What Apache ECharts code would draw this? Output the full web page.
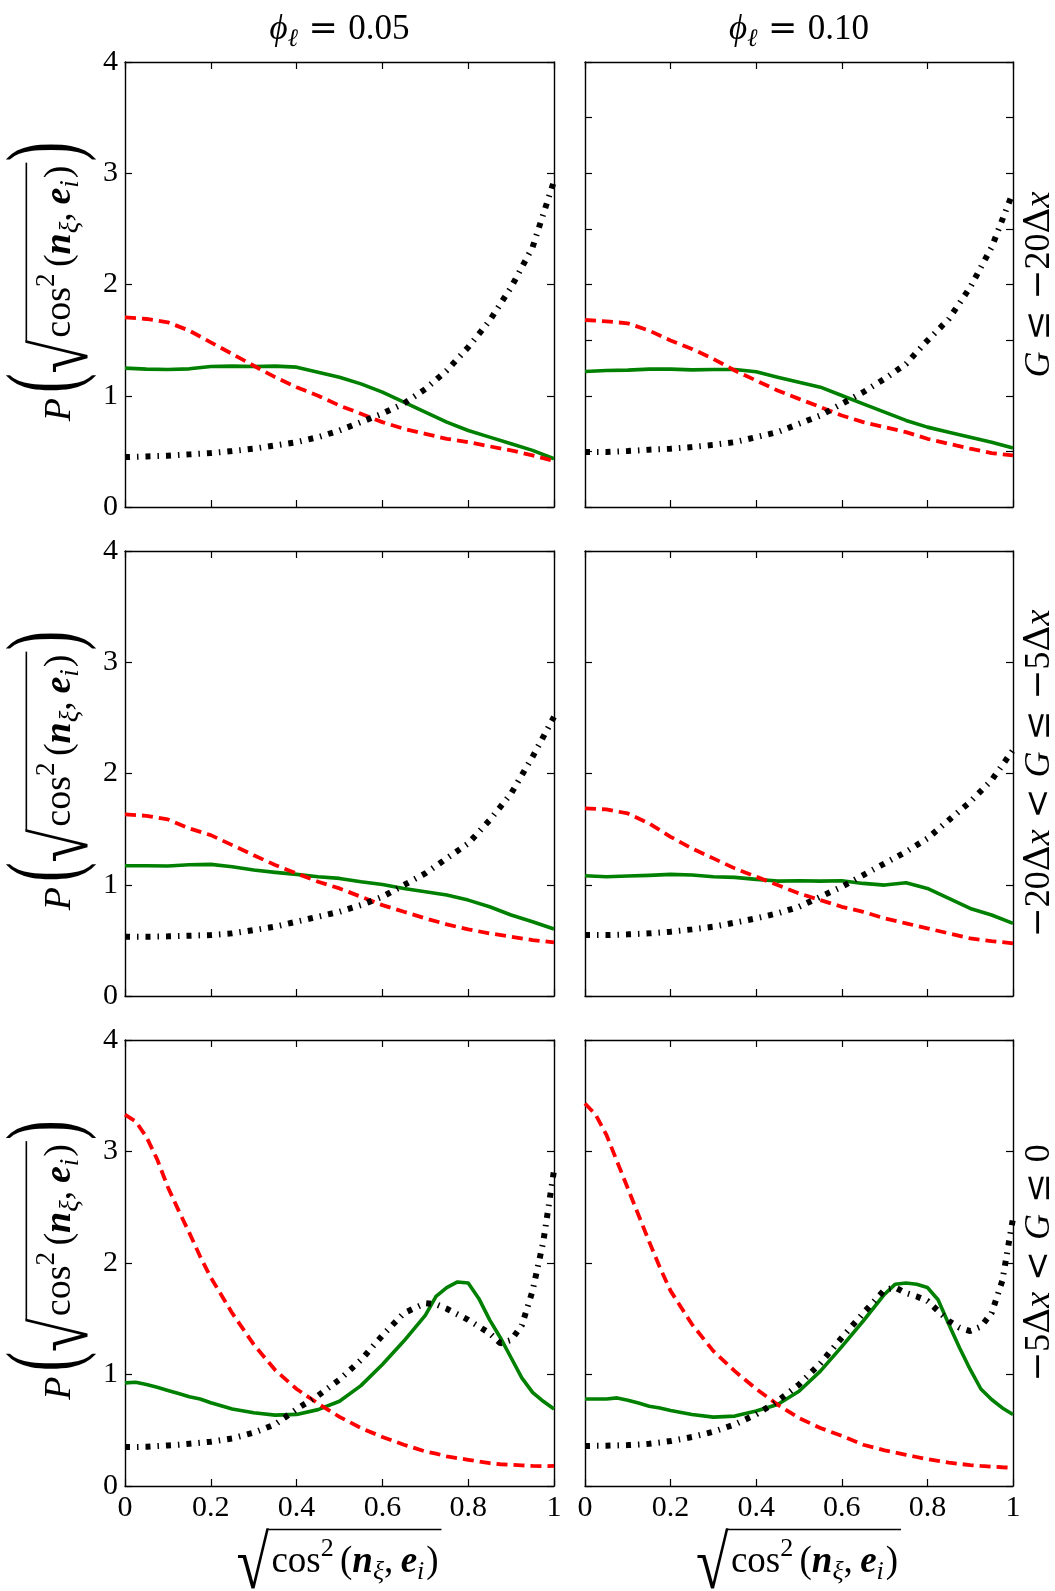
<!DOCTYPE html>
<html>
<head>
<meta charset="utf-8">
<script src="https://cdn.jsdelivr.net/npm/echarts@6/dist/echarts.min.js"></script>
<style>
html,body{margin:0;padding:0;background:#ffffff;}
#chart{width:1055px;height:1591px;}
</style>
</head>
<body>
<div id="chart"></div>
<script>
// ---------------- DATA ----------------
const X_COARSE = [0,0.05,0.1,0.15,0.2,0.25,0.3,0.35,0.4,0.45,0.5,0.55,0.6,0.65,0.7,0.75,0.8,0.85,0.9,0.95,1];
const X_FINE = [0,0.025,0.05,0.075,0.1,0.125,0.15,0.175,0.2,0.25,0.3,0.35,0.4,0.45,0.5,0.55,0.6,0.65,0.7,0.725,0.75,0.775,0.8,0.825,0.85,0.875,0.9,0.925,0.95,0.975,1];

const X_TICKS = [0,0.2,0.4,0.6,0.8,1];
const Y_TICKS = [0,1,2,3,4];
const COLUMN_TITLES = ['0.05','0.10'];

// top row: G <= -20dx
const TL_RED   = [1.705,1.69,1.66,1.585,1.48,1.376,1.27,1.167,1.077,1.0,0.912,0.838,0.763,0.703,0.658,0.613,0.583,0.545,0.509,0.464,0.413];
const TL_GREEN = [1.248,1.239,1.236,1.242,1.263,1.266,1.263,1.266,1.257,1.212,1.167,1.107,1.032,0.942,0.853,0.763,0.688,0.628,0.568,0.509,0.434];
const TL_BLACK = [0.449,0.455,0.461,0.473,0.485,0.503,0.524,0.553,0.583,0.628,0.688,0.763,0.84,0.93,1.06,1.227,1.436,1.675,1.975,2.334,2.93];

const TR_RED   = [1.681,1.669,1.651,1.586,1.496,1.421,1.331,1.227,1.137,1.047,0.972,0.898,0.823,0.763,0.718,0.673,0.613,0.568,0.524,0.485,0.464];
const TR_GREEN = [1.218,1.227,1.230,1.239,1.239,1.233,1.236,1.236,1.215,1.167,1.122,1.077,1.002,0.927,0.853,0.778,0.718,0.673,0.628,0.583,0.530];
const TR_BLACK = [0.494,0.494,0.503,0.515,0.524,0.539,0.559,0.583,0.628,0.673,0.748,0.823,0.927,1.032,1.152,1.286,1.496,1.690,1.975,2.334,2.83];

// middle row: -20dx < G <= -5dx
const ML_RED   = [1.632,1.62,1.587,1.506,1.446,1.356,1.266,1.177,1.102,1.027,0.967,0.892,0.817,0.757,0.698,0.644,0.599,0.563,0.533,0.503,0.482];
const ML_GREEN = [1.171,1.171,1.168,1.180,1.183,1.162,1.132,1.111,1.093,1.072,1.057,1.027,1.003,0.967,0.937,0.907,0.862,0.802,0.728,0.668,0.602];
const ML_BLACK = [0.533,0.533,0.536,0.542,0.548,0.563,0.593,0.623,0.668,0.713,0.757,0.817,0.892,0.997,1.102,1.237,1.371,1.581,1.820,2.150,2.509];

const MR_RED   = [1.686,1.677,1.641,1.551,1.431,1.326,1.237,1.147,1.072,0.997,0.922,0.862,0.802,0.757,0.698,0.653,0.608,0.563,0.518,0.494,0.473];
const MR_GREEN = [1.081,1.072,1.078,1.084,1.093,1.087,1.072,1.066,1.048,1.033,1.036,1.033,1.036,1.012,0.997,1.018,0.967,0.877,0.787,0.728,0.653];
const MR_BLACK = [0.548,0.548,0.554,0.563,0.578,0.599,0.623,0.659,0.698,0.743,0.802,0.892,0.982,1.087,1.192,1.296,1.416,1.581,1.746,1.940,2.210];

// bottom row: -5dx < G <= 0
const BL_RED   = [3.33,3.27,3.13,2.93,2.68,2.47,2.27,2.06,1.87,1.55,1.27,1.04,0.87,0.74,0.62,0.52,0.44,0.37,0.31,0.29,0.265,0.25,0.235,0.22,0.205,0.195,0.19,0.185,0.18,0.178,0.18];
const BL_GREEN = [0.925,0.93,0.91,0.885,0.857,0.83,0.80,0.78,0.746,0.69,0.657,0.636,0.642,0.685,0.76,0.90,1.09,1.30,1.53,1.70,1.78,1.83,1.82,1.68,1.49,1.33,1.15,0.97,0.84,0.76,0.69];
const BL_BLACK = [0.35,0.35,0.352,0.358,0.364,0.37,0.379,0.388,0.397,0.427,0.478,0.552,0.69,0.81,0.955,1.13,1.35,1.55,1.64,1.63,1.59,1.54,1.49,1.43,1.37,1.28,1.31,1.44,1.75,2.19,2.83];

const BR_RED   = [3.43,3.33,3.15,2.91,2.67,2.43,2.19,1.96,1.75,1.45,1.21,1.03,0.87,0.73,0.61,0.52,0.45,0.37,0.32,0.30,0.28,0.26,0.24,0.225,0.21,0.198,0.188,0.18,0.173,0.168,0.164];
const BR_GREEN = [0.78,0.78,0.78,0.79,0.77,0.745,0.716,0.70,0.678,0.642,0.618,0.627,0.672,0.731,0.85,1.03,1.25,1.48,1.72,1.81,1.82,1.81,1.78,1.67,1.45,1.24,1.045,0.87,0.776,0.70,0.642];
const BR_BLACK = [0.358,0.36,0.361,0.364,0.367,0.372,0.379,0.39,0.403,0.439,0.487,0.552,0.642,0.761,0.91,1.10,1.33,1.55,1.76,1.78,1.73,1.70,1.66,1.57,1.48,1.42,1.39,1.43,1.55,1.84,2.40];

// ---------------- LAYOUT / STYLE ----------------
const COL_LEFT = [125, 585];
const COL_W = [429, 428];
const ROW_TOP = [62, 551, 1040];
const ROW_H = [445, 445, 446];
const FONT = '"Liberation Serif", serif';
const SYM = '"DejaVu Serif", serif';
const INK = '#000000';

const PANELS = [
  {row:0,col:0,x:X_COARSE,g:TL_GREEN,r:TL_RED,k:TL_BLACK},
  {row:0,col:1,x:X_COARSE,g:TR_GREEN,r:TR_RED,k:TR_BLACK},
  {row:1,col:0,x:X_COARSE,g:ML_GREEN,r:ML_RED,k:ML_BLACK},
  {row:1,col:1,x:X_COARSE,g:MR_GREEN,r:MR_RED,k:MR_BLACK},
  {row:2,col:0,x:X_FINE,g:BL_GREEN,r:BL_RED,k:BL_BLACK},
  {row:2,col:1,x:X_FINE,g:BR_GREEN,r:BR_RED,k:BR_BLACK}
];

const grids = [], xAxes = [], yAxes = [], series = [];
const axisLine = {show:true, onZero:false, lineStyle:{color:INK, width:1.4}};
const axisTick = {show:true, inside:true, length:7, lineStyle:{color:INK, width:1.2}};
const labelBase = {fontFamily:FONT, fontSize:30, color:INK};

PANELS.forEach((p, i) => {
  grids.push({left:COL_LEFT[p.col], top:ROW_TOP[p.row], width:COL_W[p.col], height:ROW_H[p.row], show:false});
  const xCommon = {gridIndex:i, type:'value', min:X_TICKS[0], max:X_TICKS[X_TICKS.length-1], interval:X_TICKS[1]-X_TICKS[0],
    axisLine, axisTick, splitLine:{show:false}};
  xAxes.push(Object.assign({}, xCommon, {position:'bottom',
    axisLabel:Object.assign({show:p.row===2, margin:7}, labelBase)}));
  xAxes.push(Object.assign({}, xCommon, {position:'top', axisLabel:{show:false}}));
  const yInterval = (p.row===0 && p.col===1) ? 0.5 : 1;
  const yCommon = {gridIndex:i, type:'value', min:Y_TICKS[0], max:Y_TICKS[Y_TICKS.length-1], interval:yInterval,
    axisLine, axisTick, splitLine:{show:false}};
  yAxes.push(Object.assign({}, yCommon, {position:'left',
    axisLabel:Object.assign({show:p.col===0, margin:7}, labelBase)}));
  yAxes.push(Object.assign({}, yCommon, {position:'right', axisLabel:{show:false}}));
  const mk = (ys, style, z) => ({
    type:'line', xAxisIndex:2*i, yAxisIndex:2*i, data:p.x.map((xv,k)=>[xv, ys[k]]),
    showSymbol:false, symbol:'none', smooth:false, silent:true, z:z, clip:true,
    lineStyle:style, animation:false
  });
  series.push(mk(p.g, {color:'#008000', width:3.6, type:'solid', join:'round'}, 2));
  series.push(mk(p.r, {color:'#ff0000', width:3.8, type:[11,6], cap:'butt'}, 3));
  series.push(mk(p.k, {color:'#000000', width:6, type:[5,7,1.5,7], cap:'butt'}, 4));
});

// ---------------- MATH TEXT HELPERS ----------------
const mctx = document.createElement('canvas').getContext('2d');
function fam(p){ return p.fam || FONT; }
function fontStr(p){ return (p.style||'normal')+' '+(p.weight||'normal')+' '+p.size+'px '+fam(p); }
function meas(p){
  mctx.font = fontStr(p);
  mctx.textBaseline = 'alphabetic';
  const a = mctx.measureText(p.t);
  mctx.textBaseline = 'middle';
  const m = mctx.measureText(p.t);
  return {w:a.width, asc:a.actualBoundingBoxAscent, desc:a.actualBoundingBoxDescent,
          left:a.actualBoundingBoxLeft, right:a.actualBoundingBoxRight,
          d:a.actualBoundingBoxAscent - m.actualBoundingBoxAscent};
}
function styleOf(p){
  return {text:p.t, fontSize:p.size, fontFamily:fam(p), fontStyle:p.style||'normal',
      fontWeight:p.weight||'normal', fill:INK, align:'left', verticalAlign:'middle'};
}
function textEl(p, x, baseline){
  const mt = meas(p);
  return {type:'text', x:x, y:baseline - mt.d, silent:true, style:styleOf(p)};
}
function stretchEl(p, x, top, bottom){
  const g = meas(p);
  const s = (bottom - top)/(g.asc + g.desc);
  return {el:{type:'text', x:x, y:top + s*(g.asc - g.d), scaleY:s, silent:true, style:styleOf(p)}, g:g};
}
function run(pieces, x0, baseline){
  const els = []; let x = x0;
  pieces.forEach(p => {
    x += (p.gapBefore||0);
    const mt = meas(p);
    els.push(textEl(p, x, baseline + (p.dy||0)));
    x += mt.w + (p.gapAfter||0);
  });
  return {els, width:x - x0};
}
function radicand(S){
  const s = Math.round(S*0.7);
  return [
    {t:'cos', size:S},
    {t:'2', size:s, dy:-0.42*S, gapAfter:0.17*S},
    {t:'(', size:S},
    {t:'n', size:S, style:'italic', weight:'bold'},
    {t:'ξ', size:s, style:'italic', dy:0.2*S},
    {t:',', size:S, gapAfter:0.2*S},
    {t:'e', size:S, style:'italic', weight:'bold'},
    {t:'i', size:s, style:'italic', dy:0.2*S, gapAfter:0.05*S},
    {t:')', size:S}
  ];
}
function sqrtRun(S, x0, baseline){
  const vin = baseline - 1.17*S;
  const bot = baseline + 0.48*S;
  const ref = meas({t:'√', size:100});
  const F0 = 100*(0.85*S)/(ref.left + ref.right);
  const st = stretchEl({t:'√', size:F0}, 0, vin, bot);
  const ox = x0 + st.g.left;
  st.el.x = ox;
  const els = [st.el];
  const cx = ox + st.g.right + 0.05*S;
  const r = run(radicand(S), cx, baseline);
  els.push(...r.els);
  const endX = cx + r.width + 0.08*S;
  els.push({type:'line', silent:true, shape:{x1:ox + st.g.right - 1.2, y1:vin + 0.8, x2:endX, y2:vin + 0.8},
    style:{stroke:INK, lineWidth:1.6}});
  return {els, width:endX - x0};
}

const graphics = [];

// column titles
COLUMN_TITLES.forEach((val, c) => {
  const S = 35;
  const pieces = [
    {t:'ϕ', size:S, style:'italic'},
    {t:'ℓ', size:Math.round(S*0.7), style:'italic', dy:0.2*S, gapAfter:0.3*S},
    {t:'=', size:S, fam:SYM, gapAfter:0.3*S},
    {t:val, size:S}
  ];
  const w = run(pieces, 0, 0).width;
  const cx = COL_LEFT[c] + COL_W[c]/2;
  graphics.push(...run(pieces, cx - w/2, 39).els);
});

// row labels (rotated, right side)
function rowPieces(idx){
  const S = 36, sp = 0.3*S;
  const G = ()=>({t:'G', size:S, style:'italic'});
  const X = ()=>({t:'x', size:S, style:'italic'});
  const sym = (t, extra)=>Object.assign({t, size:S, fam:SYM}, extra||{});
  const num = (t)=>({t, size:S});
  if (idx===0) return [Object.assign(G(),{gapAfter:sp}), sym('≤',{gapAfter:sp}), sym('−'), num('20'), sym('Δ'), X()];
  if (idx===1) return [sym('−'), num('20'), sym('Δ'), X(), sym('<',{gapBefore:sp, gapAfter:sp}), Object.assign(G(),{gapAfter:sp}), sym('≤',{gapAfter:sp}), sym('−'), num('5'), sym('Δ'), X()];
  return [sym('−'), num('5'), sym('Δ'), X(), sym('<',{gapBefore:sp, gapAfter:sp}), Object.assign(G(),{gapAfter:sp}), sym('≤',{gapAfter:sp}), num('0')];
}
ROW_TOP.forEach((t, r) => {
  const pieces = rowPieces(r);
  const w = run(pieces, 0, 0).width;
  const cy = t + ROW_H[r]/2;
  graphics.push({type:'group', x:1049, y:cy, rotation:Math.PI/2, children: run(pieces, -w/2, 0).els});
});

// y-axis labels: P( sqrt(...) )
function yLabelEls(){
  const S = 38;
  const P = {t:'P', size:S, style:'italic'};
  const pW = meas(P).w;
  const top = -64, bot = 27;
  const LP = {t:'(', size:58}, RP = {t:')', size:58};
  const lpW = meas(LP).w, rpW = meas(RP).w;
  const sq = sqrtRun(S, 0, 0).width;
  const gap1 = 0.14*S, gap2 = 0.02*S, gap3 = 0.04*S;
  const total = pW + gap1 + lpW + gap2 + sq + gap3 + rpW;
  let x = -total/2;
  const els = [];
  els.push(textEl(P, x, 0)); x += pW + gap1;
  els.push(stretchEl(LP, x, top, bot).el); x += lpW + gap2;
  const Q = sqrtRun(S, x, 0); els.push(...Q.els); x += Q.width + gap3;
  els.push(stretchEl(RP, x, top, bot).el);
  return els;
}
ROW_TOP.forEach((t, r) => {
  graphics.push({type:'group', x:70, y:t + ROW_H[r]/2 - 3, rotation:Math.PI/2, children:yLabelEls()});
});

// x-axis labels
COL_LEFT.forEach((l, c) => {
  const S = 37;
  const w = sqrtRun(S, 0, 0).width;
  const cx = l + COL_W[c]/2;
  graphics.push(...sqrtRun(S, cx - w/2, 1572).els);
});

const chart = echarts.init(document.getElementById('chart'), null, {renderer:'canvas'});
chart.setOption({
  animation:false,
  backgroundColor:'#ffffff',
  grid:grids, xAxis:xAxes, yAxis:yAxes, series:series,
  graphic:{elements:graphics}
});
</script>
</body>
</html>
